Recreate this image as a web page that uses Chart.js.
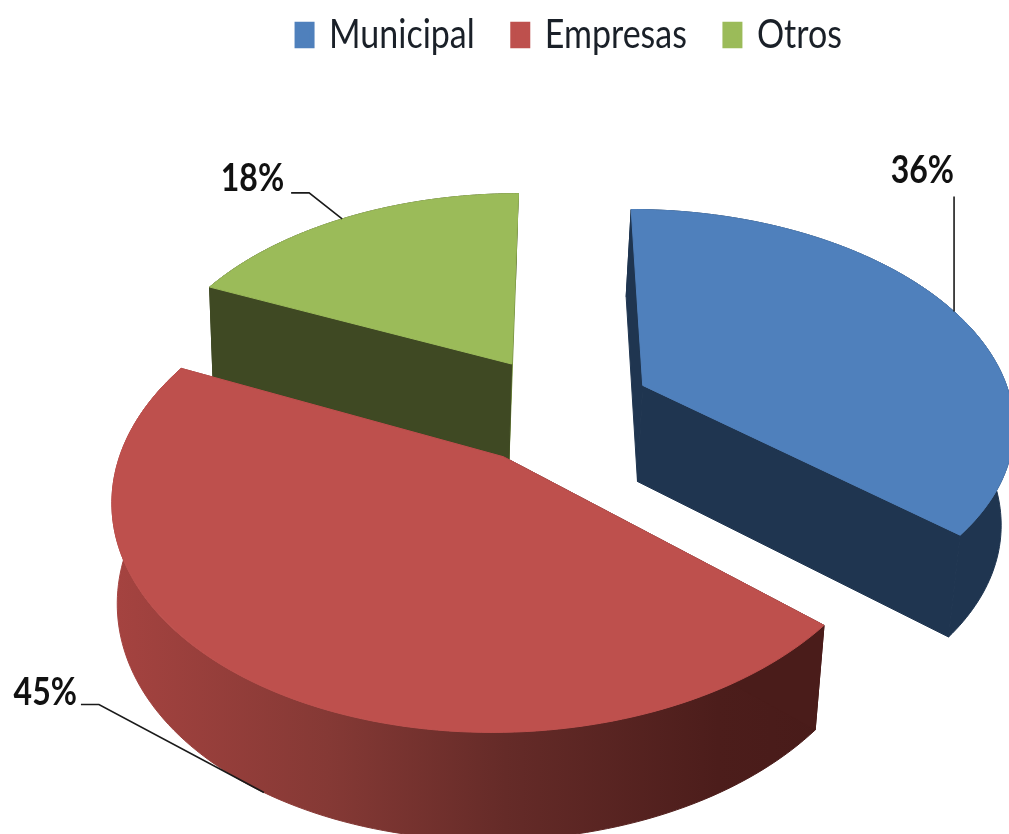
<!DOCTYPE html>
<html><head><meta charset="utf-8">
<style>html,body{margin:0;padding:0;background:#fff;overflow:hidden}#wrap{width:1009px;height:834px}canvas{filter:blur(0.6px)}</style>
<script src="https://cdn.jsdelivr.net/npm/chart.js@4"></script>
</head><body><div id="wrap"><canvas id="c" width="1009" height="834"></canvas></div>
<script>
const categories = ['Municipal','Empresas','Otros'];
const percentValues = [36,45,18];
const explodePercent = [25,27,25];
const topColors = ['#4F80BC','#BE504D','#9BBB59'];

// camera of the tilted pie: maps unit-disk coordinates to the page
const CAM = {cx:560, cy:407, a:370, b:211.5, k:0.165, depth:97, depthGrow:0.09, floorShrink:0.98, floorCx:380};
const TEXT_STRETCH = 1.2;
function proj(x,y,floor){
  const w = 1-CAM.k*y;
  let X = CAM.cx+CAM.a*x/w, Y = CAM.cy+CAM.b*y/w;
  if(floor){ Y += CAM.depth*(1+CAM.depthGrow*y); X = CAM.floorCx+(X-CAM.floorCx)*CAM.floorShrink; }
  return [X,Y];
}
const wallStyles = [
  {outer:'#1F3550', start:'#1F3550', end:'#1F3550'},
  {outer:null, start:'#4A1C1A', end:'#8A3A37'},
  {outer:'#3F4923', start:'#3F4923', end:'#76913F'}
];
const leaderStyles = [
  {frac:0.515, floor:false, elbow:[0,-115], end:[0,-115], text:[0,-141]},
  {frac:0.49, floor:true, elbow:[-165,-88], end:[-183,-88], text:[-187,-100]},
  {frac:0.485, floor:false, elbow:[-33,-26], end:[-51,-26], text:[-58,-40]}
];
const paintOrder = [2,0,1];

function polygon(ctx,pts,fill){
  ctx.beginPath();
  pts.forEach((p,i)=> i?ctx.lineTo(p[0],p[1]):ctx.moveTo(p[0],p[1]));
  ctx.closePath(); ctx.fillStyle=fill; ctx.fill();
  ctx.strokeStyle=fill; ctx.lineWidth=1; ctx.stroke();
}
function sliceGeometry(arc){
  const p = arc.getProps(['startAngle','endAngle']);
  const mid=(p.startAngle+p.endAngle)/2, off=arc.options.offset/100;
  const ox=off*Math.cos(mid), oy=off*Math.sin(mid);
  return {a0:p.startAngle,a1:p.endAngle,ox,oy,
    rim:(t)=>[ox+Math.cos(t),oy+Math.sin(t)]};
}
const pie3d = {
  id:'pie3d',
  afterLayout(chart){
    const lg=chart.legend;
    if(lg && !lg._stretched){
      lg._stretched=true;
      const orig=lg.draw.bind(lg);
      lg.draw=function(){
        const c=chart.ctx, mid=lg.top+lg.options.labels.padding+lg.options.labels.font.size/2;
        c.save(); c.translate(0,mid); c.scale(1,TEXT_STRETCH); c.translate(0,-mid);
        orig(); c.restore();
      };
    }
  },
  beforeDatasetsDraw(chart){
    const ctx=chart.ctx, meta=chart.getDatasetMeta(0);
    paintOrder.forEach(i=>{
      const g=sliceGeometry(meta.data[i]), st=wallStyles[i], N=120;
      const top=[],bot=[];
      for(let n=0;n<=N;n++){
        const t=g.a0+(g.a1-g.a0)*n/N, r=g.rim(t);
        top.push(proj(r[0],r[1],false)); bot.push(proj(r[0],r[1],true));
      }
      const apexT=proj(g.ox,g.oy,false), apexB=proj(g.ox,g.oy,true);
      let outer=st.outer;
      if(!outer){
        outer=ctx.createLinearGradient(115,0,825,0);
        outer.addColorStop(0,'#A54340');
        outer.addColorStop(0.3,'#853935');
        outer.addColorStop(0.55,'#652B28');
        outer.addColorStop(0.85,'#4C1D1B');
        outer.addColorStop(1,'#481B19');
      }
      polygon(ctx,top.concat(bot.slice().reverse()),outer);
      polygon(ctx,[apexT,top[N],bot[N],apexB],st.end);
      polygon(ctx,[apexT,top[0],bot[0],apexB],st.start);
      polygon(ctx,[apexT].concat(top),topColors[i]);
    });
    // value labels with leader lines
    ctx.font='bold 32px Lato'; ctx.textBaseline='middle'; ctx.textAlign='right';
    percentValues.forEach((v,i)=>{
      const g=sliceGeometry(meta.data[i]), s=leaderStyles[i];
      const r=g.rim(g.a0+(g.a1-g.a0)*s.frac), A=proj(r[0],r[1],s.floor);
      ctx.beginPath(); ctx.moveTo(A[0],A[1]);
      ctx.lineTo(A[0]+s.elbow[0],A[1]+s.elbow[1]);
      ctx.lineTo(A[0]+s.end[0],A[1]+s.end[1]);
      ctx.strokeStyle='#1a1a1a'; ctx.lineWidth=1.6; ctx.stroke();
      ctx.save();
      ctx.translate(A[0]+s.text[0],A[1]+s.text[1]); ctx.scale(1,TEXT_STRETCH);
      ctx.fillStyle='#111'; ctx.fillText(v+'%',0,0);
      ctx.restore();
    });
    return false;
  }
};
new Chart(document.getElementById('c'),{
  type:'pie',
  data:{labels:categories,datasets:[{data:percentValues,backgroundColor:topColors,borderWidth:0,offset:explodePercent}]},
  options:{
    responsive:false,animation:false,
    layout:{padding:{top:-20,left:130}},
    plugins:{
      tooltip:{enabled:false},
      legend:{position:'top',labels:{font:{family:'Lato',size:34},color:'#1a2028',boxWidth:15,boxHeight:17,padding:38,
        generateLabels(chart){
          return Chart.overrides.pie.plugins.legend.labels.generateLabels(chart).map(l=>Object.assign(l,{lineWidth:5,strokeStyle:l.fillStyle}));
        }}}
    }
  },
  plugins:[pie3d]
});
</script></body></html>
